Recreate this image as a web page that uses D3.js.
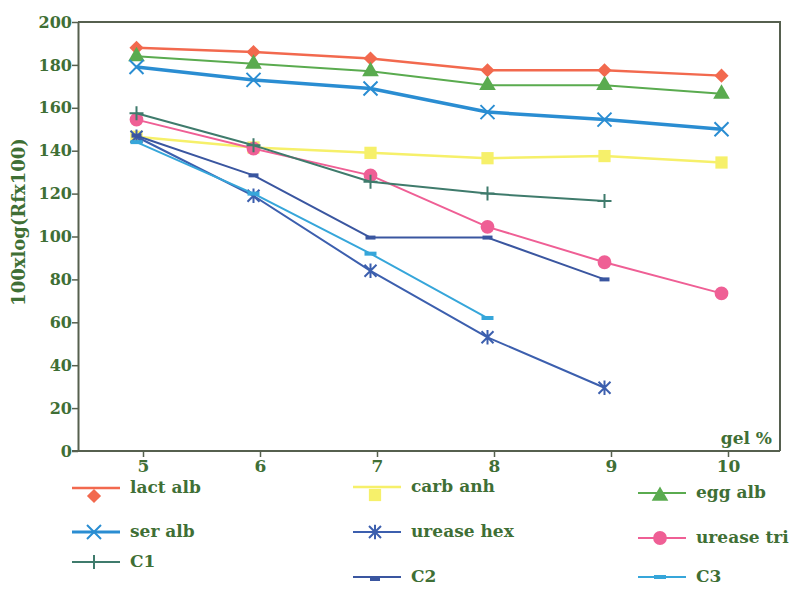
<!DOCTYPE html>
<html>
<head>
<meta charset="utf-8">
<script src="https://cdn.jsdelivr.net/npm/d3@7"></script>
<style>
    body { margin: 0; background: #fff; }
    svg { display: block; }
</style>
</head>
<body>
<div id="chart"></div>
<script>
// gel percentages (x) and 100*log(Rf*100) values
var gelPct = [5, 6, 7, 8, 9, 10];
var lactAlb = [188, 186, 183, 177.5, 177.5, 175];
var carbAnh = [146.5, 141.5, 139, 136.5, 137.5, 134.5];
var eggAlb = [184, 180.5, 177, 170.5, 170.5, 166.5];
var serAlb = [179, 173, 169, 158, 154.5, 150];
var ureaseHex = [146.5, 119, 84, 53, 29.5];
var ureaseTri = [154.5, 141, 128.5, 104.5, 88, 73.5];
var c1 = [157.5, 142.5, 125.5, 120, 116.5];
var c2 = [147, 128.5, 99.5, 99.5, 80];
var c3 = [144, 120, 92, 62];

var seriesNames = ["lact alb", "carb anh", "egg alb", "ser alb", "urease hex", "urease tri", "C1", "C2", "C3"];
var seriesValues = [lactAlb, carbAnh, eggAlb, serAlb, ureaseHex, ureaseTri, c1, c2, c3];
var yTicks = [0, 20, 40, 60, 80, 100, 120, 140, 160, 180, 200];
var xTicks = [5, 6, 7, 8, 9, 10];

var width = 794, height = 590;
var plot = {left: 78, right: 780, top: 22, bottom: 451};
var green = "#3f6f35";
var axisColor = "#56604f";
var font = "'DejaVu Serif', serif";

// custom stroked symbols (x, asterisk, plus, dash)
var symX = {draw: function(ctx, s) { var r = s; ctx.moveTo(-r, -r); ctx.lineTo(r, r); ctx.moveTo(r, -r); ctx.lineTo(-r, r); }};
var symAst = {draw: function(ctx, s) { var r = s; ctx.moveTo(-r, -r); ctx.lineTo(r, r); ctx.moveTo(r, -r); ctx.lineTo(-r, r); ctx.moveTo(0, -r * 1.2); ctx.lineTo(0, r * 1.2); }};
var symPlus = {draw: function(ctx, s) { var r = s; ctx.moveTo(-r, 0); ctx.lineTo(r, 0); ctx.moveTo(0, -r); ctx.lineTo(0, r); }};
var symDash = {draw: function(ctx, s) { ctx.rect(-s, -2, 2 * s, 4); }};

var styles = {
    "lact alb":   {color: "#f2694e", width: 2.5, type: d3.symbolSquare, size: 100, rot: 45, fill: true},
    "carb anh":   {color: "#f6f06a", width: 2.5, type: d3.symbolSquare, size: 150, rot: 0, fill: true},
    "egg alb":    {color: "#5aab4f", width: 2,   type: d3.symbolTriangle, size: 120, rot: 0, fill: true},
    "ser alb":    {color: "#2a8dd2", width: 3.5, type: symX, size: 7, rot: 0, fill: false},
    "urease hex": {color: "#3c5fae", width: 2,   type: symAst, size: 6, rot: 0, fill: false},
    "urease tri": {color: "#ef5f95", width: 2,   type: d3.symbolCircle, size: 150, rot: 0, fill: true},
    "C1":         {color: "#3f7b6c", width: 2,   type: symPlus, size: 7, rot: 0, fill: false},
    "C2":         {color: "#3a56a0", width: 2,   type: symDash, size: 5, rot: 0, fill: true},
    "C3":         {color: "#36a6da", width: 2,   type: symDash, size: 6, rot: 0, fill: true}
};

var svg = d3.select("#chart").append("svg")
    .attr("width", width)
    .attr("height", height)
    .style("background", "#fff");

var x = d3.scaleLinear().domain([4.5, 10.5]).range([plot.left, plot.right]);
var y = d3.scaleLinear().domain([0, 200]).range([plot.bottom, plot.top]);

// frame (top + right), axes draw left + bottom
svg.append("path")
    .attr("d", "M" + plot.left + "," + plot.top + "H" + plot.right + "V" + plot.bottom)
    .attr("fill", "none")
    .attr("stroke", axisColor)
    .attr("stroke-width", 2);

var yAxis = svg.append("g")
    .attr("transform", "translate(" + plot.left + ",0)")
    .call(d3.axisLeft(y).tickValues(yTicks).tickSize(6).tickPadding(0).tickSizeOuter(0));

var xAxis = svg.append("g")
    .attr("transform", "translate(0," + plot.bottom + ")")
    .call(d3.axisBottom(x).tickValues(xTicks).tickFormat(d3.format("d")).tickSize(6).tickPadding(3).tickSizeOuter(0));

// x tick labels sit a little right of the data positions in the original
xAxis.selectAll(".tick").attr("transform", function(d) { return "translate(" + (x(d) + 7) + ",0)"; });
xAxis.select(".domain").attr("d", "M" + (plot.left - 6) + ",0H" + plot.right);

[yAxis, xAxis].forEach(function(g) {
    g.select(".domain").attr("stroke", axisColor).attr("stroke-width", 2);
    g.selectAll(".tick line").attr("stroke", axisColor).attr("stroke-width", 1.5);
    g.selectAll(".tick text")
        .attr("fill", green)
        .style("font-family", font)
        .style("font-weight", "bold")
        .style("font-size", "16px");
});
xAxis.selectAll(".tick text").style("font-size", "17px");

// axis titles
svg.append("text")
    .attr("transform", "translate(25,222) rotate(-90)")
    .attr("text-anchor", "middle")
    .attr("fill", green)
    .style("font-family", font)
    .style("font-weight", "bold")
    .style("font-size", "18px")
    .text("100xlog(Rfx100)");

svg.append("text")
    .attr("x", 772)
    .attr("y", 444)
    .attr("text-anchor", "end")
    .attr("fill", green)
    .style("font-family", font)
    .style("font-weight", "bold")
    .style("font-size", "17px")
    .text("gel %");

// series
var series = seriesNames.map(function(name, i) {
    return {
        name: name,
        points: seriesValues[i].map(function(v, j) { return {x: gelPct[j], y: v}; })
    };
});

var line = d3.line().x(function(d) { return x(d.x); }).y(function(d) { return y(d.y); });

function marker(sel, st) {
    sel.attr("d", d3.symbol().type(st.type).size(st.size))
        .attr("fill", st.fill ? st.color : "none")
        .attr("stroke", st.color)
        .attr("stroke-width", st.fill ? 0 : 2);
}

var groups = svg.selectAll(".series")
    .data(series)
    .enter().append("g")
    .attr("class", "series");

groups.append("path")
    .attr("d", function(d) { return line(d.points); })
    .attr("fill", "none")
    .attr("stroke", function(d) { return styles[d.name].color; })
    .attr("stroke-width", function(d) { return styles[d.name].width; })
    .attr("stroke-linejoin", "round");

groups.each(function(s) {
    var st = styles[s.name];
    d3.select(this).selectAll(".pt")
        .data(s.points)
        .enter().append("path")
        .attr("class", "pt")
        .attr("transform", function(d) { return "translate(" + x(d.x) + "," + y(d.y) + ") rotate(" + st.rot + ")"; })
        .call(marker, st);
});

// legend, 3 columns x 3 rows
var legCols = [72, 353, 638];
var legRows = [[488, 487, 493], [532, 532, 538], [562, 577, 577]];
var legMarkerDy = {"lact alb": 8, "carb anh": 8, "egg alb": 3, "C2": 2};

var legend = svg.selectAll(".legend")
    .data(seriesNames)
    .enter().append("g")
    .attr("class", "legend")
    .attr("transform", function(d, i) {
        return "translate(" + legCols[i % 3] + "," + legRows[Math.floor(i / 3)][i % 3] + ")";
    });

legend.append("line")
    .attr("x1", 0).attr("x2", 48)
    .attr("y1", 0).attr("y2", 0)
    .attr("stroke", function(d) { return styles[d].color; })
    .attr("stroke-width", function(d) { return Math.min(styles[d].width, 3); });

legend.append("path")
    .attr("transform", function(d) {
        var st = styles[d];
        return "translate(22," + (legMarkerDy[d] || 0) + ") rotate(" + st.rot + ")";
    })
    .each(function(d) { d3.select(this).call(marker, styles[d]); });

legend.append("text")
    .attr("x", 58)
    .attr("y", 5)
    .attr("fill", green)
    .style("font-family", font)
    .style("font-weight", "bold")
    .style("font-size", "17px")
    .text(function(d) { return d; });
</script>
</body>
</html>
